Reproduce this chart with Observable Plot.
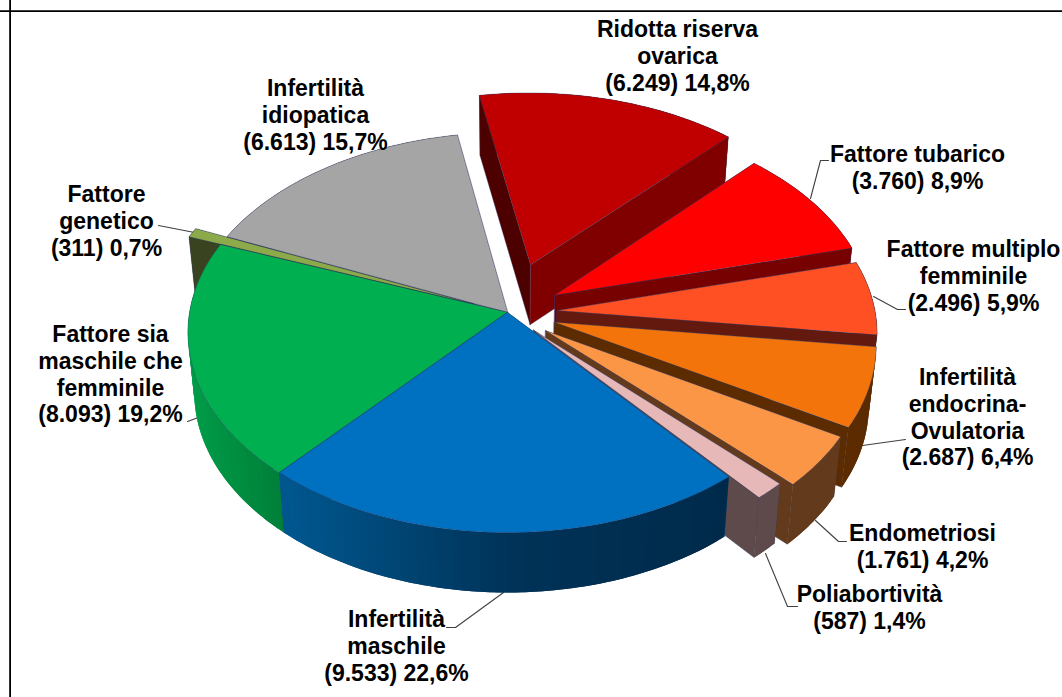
<!DOCTYPE html>
<html>
<head>
<meta charset="utf-8">
<script src="https://cdn.jsdelivr.net/npm/d3@7"></script>
<script src="https://cdn.jsdelivr.net/npm/@observablehq/plot@0.6"></script>
<style>html,body{margin:0;padding:0;background:#fff}svg{display:block}</style>
</head>
<body>
<div id="chart"></div>
<script>
// ---- data ----
const categories = ["Ridotta riserva\novarica","Fattore tubarico","Fattore multiplo\nfemminile","Infertilità\nendocrina-\nOvulatoria","Endometriosi","Poliabortività","Infertilità\nmaschile","Fattore sia\nmaschile che\nfemminile","Fattore\ngenetico","Infertilità\nidiopatica"];
const values = [6249,3760,2496,2687,1761,587,9533,8093,311,6613];

// ---- per-slice appearance ----
const explode = [0.258,0.175,0.157,0.155,0.15,0.12,0,0,0.115,0];
const topColors = ["#C00000","#FF0000","#FF5023","#F2740B","#FB9646","#E6B8B7","#0070C0","#00B050","#8DAA4B","#A5A5A5"];
const startWall = ["#4d0000","#770000","#63190d","#5c2b00","#643a1c","#5e4a4a","#00568e","#008a3f","#3a4320","#5a5a5a"];
const endWall   = ["#800000","#770000","#63190d","#5c2b00","#643a1c","#5e4a4a","#002a4a","#00803a","#3a4320","#5a5a5a"];
const rimLeft   = ["#800000","#770000","#63190d","#5c2b00","#643a1c","#5e4a4a","#00568e","#009c48","#3a4320","#5a5a5a"];
const rimRight  = ["#800000","#770000","#63190d","#5c2b00","#643a1c","#5e4a4a","#002a4a","#007f39","#3a4320","#5a5a5a"];
const paintOrder = [0,1,2,3,4,5,9,8,7,6];

// ---- label layout ----
const labelX = [677,917,973,967,922,869,396,110,106,315];
const labelY = [55,166,275,416,545,606,645,373,220,114];
const leaders = [
  [[158,225],[194,232]],
  [[828,160],[820,160],[810,198]],
  [[873,296],[897,309],[905,309]],
  [[862,445],[905,439]],
  [[815,520],[838,541],[846,541]],
  [[765,553],[787,606],[797,606]],
  [[503,592],[455,627],[446,627]],
  [[187,421],[198,417]]
];

// ---- pie projection ----
const cx = 507, cy = 312, R = 318, B = 198, k = 0.10, T = 60, shrink = 0.98, startAngle = -10;
const rad = d => d * Math.PI / 180;
const total = d3.sum(values);
const proj = (X, Y, low) => {
  const w = 1 + k * Y;
  return {x: cx + (low ? shrink : 1) * R * X / w, y: cy - B * Y / w + (low ? T : 0)};
};

let cum = 0;
const slices = values.map((v, i) => {
  const a0 = startAngle + cum / total * 360;
  cum += v;
  const a1 = startAngle + cum / total * 360;
  const mid = (a0 + a1) / 2;
  return {i, a0, a1, mid, ox: explode[i] * Math.sin(rad(mid)), oy: explode[i] * Math.cos(rad(mid))};
});

const verts = [];
let faceId = 0;
const addFace = (pts, fill, stroke) => {
  const id = faceId++;
  pts.forEach(p => verts.push({id, x: p.x, y: p.y, fill, stroke}));
};
const edgeColor = "#2c3a6b";

for (const idx of paintOrder) {
  const s = slices[idx];
  const rim = (a, low) => proj(s.ox + Math.sin(rad(a)), s.oy + Math.cos(rad(a)), low);
  const apex = low => proj(s.ox, s.oy, low);
  const steps = Math.max(2, Math.ceil((s.a1 - s.a0) / 1.5));
  const da = (s.a1 - s.a0) / steps;
  const angles = d3.range(steps + 1).map(j => s.a0 + da * j);
  const rimColor = d3.scaleLinear().domain([290, 510, 730]).range([rimLeft[idx], d3.interpolateRgb(rimLeft[idx], rimRight[idx])(0.8), rimRight[idx]]).clamp(true);
  const greenColor = d3.scaleLinear().domain([190, 280]).range([rimLeft[idx], rimRight[idx]]).clamp(true);
  const colorAt = idx === 7 ? greenColor : rimColor;
  const strip = j => {
    const a = angles[j], b = angles[j + 1];
    const p = rim((a + b) / 2, false);
    const c = d3.rgb(colorAt(p.x)).formatHex();
    // each piece runs on under its neighbour so no background shows at the joins
    const overlap = Math.min(s.a1, b + da);
    const arc = [a, (a + b) / 2, b, overlap];
    addFace([...arc.map(t => rim(t, false)), ...arc.slice().reverse().map(t => rim(t, true))], c, "none");
  };
  const isFront = j => Math.cos(rad(angles[j])) <= -k;
  // back-facing rim pieces first
  for (let j = 0; j < steps; j++) if (!isFront(j)) strip(j);
  const startFace = () => addFace([apex(false), rim(s.a0, false), rim(s.a0, true), apex(true)], startWall[idx], edgeColor);
  const endFace = () => addFace([apex(false), rim(s.a1, false), rim(s.a1, true), apex(true)], endWall[idx], edgeColor);
  if (s.mid < 170) { startFace(); endFace(); } else { endFace(); startFace(); }
  // front-facing rim pieces
  for (let j = 0; j < steps; j++) if (isFront(j)) strip(j);
  // top
  addFace([apex(false), ...angles.map(a => rim(a, false))], topColors[idx], edgeColor);
}

const fmtValue = v => String(v).replace(/\B(?=(\d{3})+$)/g, ".");
const fmtPct = v => (v / total * 100).toFixed(1).replace(".", ",");
const labels = categories.map((c, i) => ({
  x: labelX[i], y: labelY[i],
  text: `${c}\n(${fmtValue(values[i])}) ${fmtPct(values[i])}%`
}));
const leaderPts = leaders.flatMap((l, id) => l.map(([x, y]) => ({id, x, y})));

const chart = Plot.plot({
  width: 1062,
  height: 697,
  margin: 0,
  x: {domain: [0, 1062], range: [0, 1062], axis: null},
  y: {domain: [0, 697], range: [0, 697], axis: null},
  color: {type: "identity"},
  style: {background: "#fff"},
  marks: [
    Plot.ruleY([10.7], {stroke: "#000", strokeWidth: 1.8}),
    Plot.ruleX([9.6], {stroke: "#000", strokeWidth: 1.8}),
    Plot.line(leaderPts, {x: "x", y: "y", z: "id", stroke: "#404040", strokeWidth: 1.1, curve: "linear"}),
    Plot.line(verts, {x: "x", y: "y", z: "id", fill: "fill", stroke: "stroke", strokeWidth: 0.6, strokeOpacity: 0.6, curve: "linear-closed"}),
    Plot.text(labels, {x: "x", y: "y", text: "text", fontFamily: "Liberation Sans", fontWeight: "bold", fontSize: 23, lineHeight: 1.17, fill: "#000", textAnchor: "middle"})
  ]
});
document.getElementById("chart").appendChild(chart);
</script>
</body>
</html>
